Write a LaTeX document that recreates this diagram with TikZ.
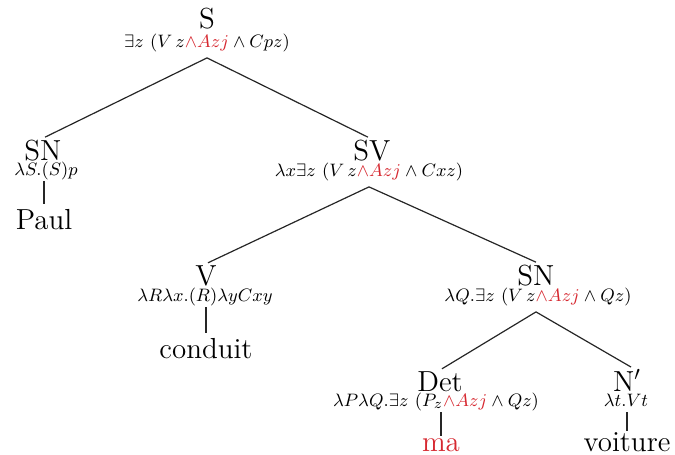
\documentclass[tikz,border=0pt]{standalone}
\usepackage{amsmath,amssymb}
\definecolor{hl}{RGB}{214,40,48}
\begin{document}
\begin{tikzpicture}[x=0.5pt,y=-0.5pt,
  lab/.style={anchor=base,inner sep=0pt,font=\fontsize{14.5}{17}\selectfont},
  frm/.style={anchor=base,inner sep=0pt,font=\fontsize{9.3}{11}\selectfont},
  edge/.style={line width=0.6pt,draw=black!85}]
\useasboundingbox (0,0) rectangle (675,455);
\newcommand{\hlA}{\textcolor{hl}{{\wedge}Azj}}
% S
\node[lab] (S) at (207,28) {S};
\node[frm] (fS) at (207,47) {$\exists z\ (V\,z\hlA\wedge Cpz)$};
% SN1
\node[lab] (SN1) at (43,160) {SN};
\node[frm] (fSN1) at (46,175) {$\lambda S.(S)p$};
\node[lab] (paul) at (44,229) {Paul};
% SV
\node[lab] (SV) at (372,160) {SV};
\node[frm] (fSV) at (369,176) {$\lambda x\exists z\ (V\,z\hlA\wedge Cxz)$};
% V
\node[lab] (V) at (206,285) {V};
\node[frm] (fV) at (205,301) {$\lambda R\lambda x.(R)\lambda yCxy$};
\node[lab] (cond) at (206,358) {conduit};
% SN2
\node[lab] (SN2) at (536,285) {SN};
\node[frm] (fSN2) at (538,301) {$\lambda Q.\exists z\ (V\,z\hlA\wedge Qz)$};
% Det
\node[lab] (Det) at (440,391) {Det};
\node[frm] (fDet) at (436,406) {$\lambda P\lambda Q.\exists z\ (P_z\hlA\wedge Qz)$};
\node[lab,text=hl] (ma) at (441,451) {ma};
% N'
\node[lab] (Np) at (627,391) {N$'$};
\node[frm] (fNp) at (626,406) {$\lambda t.Vt$};
\node[lab] (voit) at (627,451) {voiture};
% edges
\draw[edge] ([yshift=-3pt]fS.south) -- ([xshift=1pt,yshift=1pt]SN1.north);
\draw[edge] ([yshift=-3pt]fS.south) -- ([xshift=-2pt,yshift=1pt]SV.north);
\draw[edge] ([yshift=-3pt]fSV.south) -- ([xshift=1pt,yshift=1pt]V.north);
\draw[edge] ([yshift=-3pt]fSV.south) -- ([yshift=1pt]SN2.north);
\draw[edge] ([xshift=-1pt,yshift=-3pt]fSN2.south) -- ([xshift=1pt,yshift=1pt]Det.north);
\draw[edge] ([xshift=-1pt,yshift=-3pt]fSN2.south) -- ([xshift=2pt,yshift=1pt]Np.north);
\draw[edge] ([yshift=-3pt]fSN1.base -| paul.base) -- ([yshift=12.5pt]paul.base);
\draw[edge] ([yshift=-3pt]fV.base -| cond.base) -- ([yshift=12.5pt]cond.base);
\draw[edge] ([yshift=-3pt]fDet.base -| ma.base) -- ([yshift=7.5pt]ma.base);
\draw[edge] ([yshift=-3pt]fNp.base -| voit.base) -- ([yshift=10pt]voit.base);
\end{tikzpicture}
\end{document}
